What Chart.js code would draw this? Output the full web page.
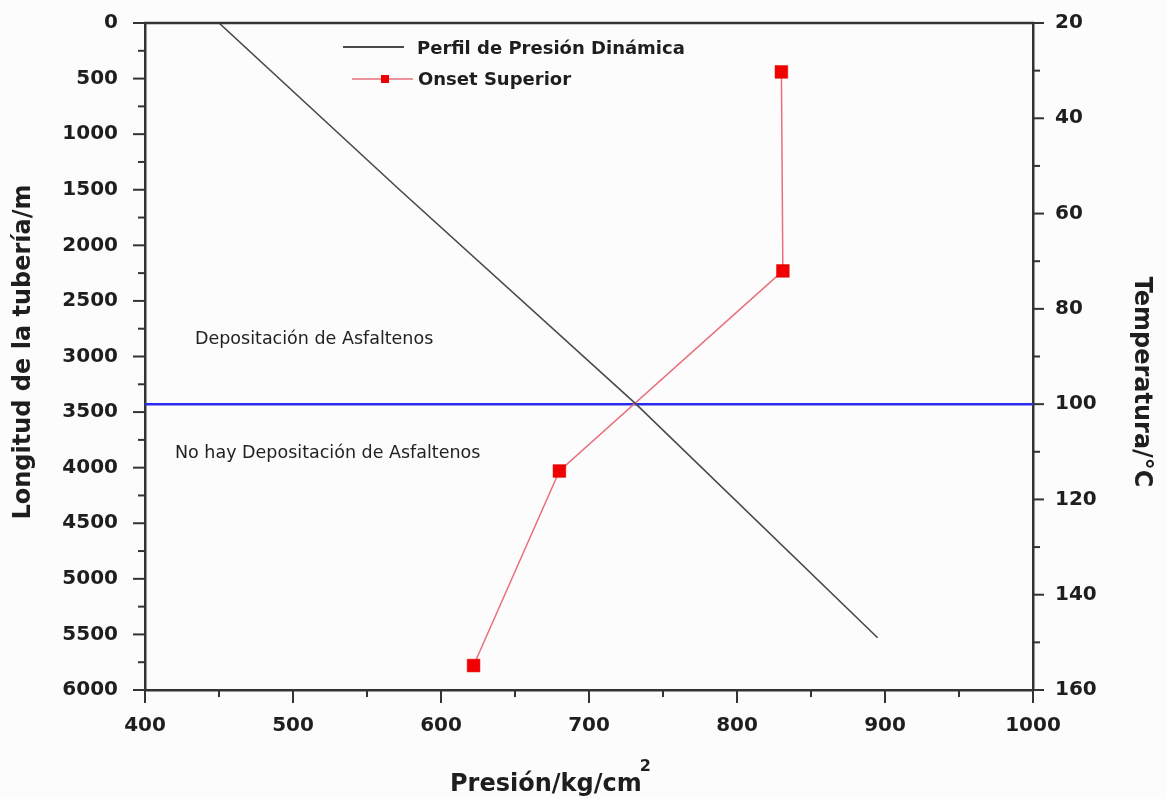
<!DOCTYPE html>
<html>
<head>
<meta charset="utf-8">
<script src="https://cdn.jsdelivr.net/npm/chart.js@4/dist/chart.umd.min.js"></script>
<style>
  html, body { margin: 0; padding: 0; background: #fcfcfc; }
  #wrap { width: 1167px; height: 799px; }
</style>
</head>
<body>
<div id="wrap"><canvas id="c" width="1167" height="799"></canvas></div>
<script>
// ---- data ----
const perfilPresion = [450, 572, 732, 895];          // kg/cm2
const perfilLongitud = [0, 1500, 3430, 5530];         // m
const onsetPresion = [830, 831, 680, 622];            // kg/cm2
const onsetLongitud = [440, 2230, 4030, 5780];        // m
const limiteTemperatura = 100;                        // °C (blue line)
const limitePresion = [400, 1000];
const serieNombres = ['Perfil de Presión Dinámica', 'Onset Superior'];
const zonaTextos = ['Depositación de Asfaltenos', 'No hay Depositación de Asfaltenos'];
const ejeX = { min: 400, max: 1000, step: 100, minor: 50 };
const ejeY = { min: 0, max: 6000, step: 500, minor: 250 };
const ejeY2 = { min: 20, max: 160, step: 20, minor: 10 };
const titulos = { x: 'Presión/kg/cm', xSup: '2', y: 'Longitud de la tubería/m', y2: 'Temperatura/°C' };

const AXIS = '#333333';
const TXT = '#1e1e1e';
const FONT = '"DejaVu Sans", "Liberation Sans", Arial, sans-serif';

const perfilData = perfilPresion.map((x, i) => ({ x, y: perfilLongitud[i] }));
const onsetData = onsetPresion.map((x, i) => ({ x, y: onsetLongitud[i] }));
const limiteData = limitePresion.map(x => ({ x, y: limiteTemperatura }));

const decorPlugin = {
  id: 'decor',
  beforeDraw(chart) {
    const ctx = chart.ctx;
    ctx.save();
    ctx.fillStyle = '#fcfcfc';
    ctx.fillRect(0, 0, chart.width, chart.height);
    ctx.restore();
  },
  afterDraw(chart) {
    const ctx = chart.ctx;
    const { x, y, y2 } = chart.scales;
    const a = chart.chartArea;
    ctx.save();
    ctx.strokeStyle = AXIS;
    ctx.lineWidth = 2.5;
    ctx.lineCap = 'butt';
    // top frame line
    ctx.beginPath();
    ctx.moveTo(a.left - 1, a.top);
    ctx.lineTo(a.right + 1, a.top);
    ctx.stroke();
    // ticks
    ctx.lineWidth = 2;
    for (let v = ejeX.min; v <= ejeX.max + 1e-9; v += ejeX.minor) {
      const px = x.getPixelForValue(v);
      const len = (Math.round(v - ejeX.min) % ejeX.step === 0) ? 13 : 7;
      ctx.beginPath(); ctx.moveTo(px, a.bottom); ctx.lineTo(px, a.bottom + len); ctx.stroke();
    }
    for (let v = ejeY.min; v <= ejeY.max + 1e-9; v += ejeY.minor) {
      const py = y.getPixelForValue(v);
      const len = (Math.round(v - ejeY.min) % ejeY.step === 0) ? 12 : 7;
      ctx.beginPath(); ctx.moveTo(a.left, py); ctx.lineTo(a.left - len, py); ctx.stroke();
    }
    for (let v = ejeY2.min; v <= ejeY2.max + 1e-9; v += ejeY2.minor) {
      const py = y2.getPixelForValue(v);
      const len = (Math.round(v - ejeY2.min) % ejeY2.step === 0) ? 11 : 7;
      ctx.beginPath(); ctx.moveTo(a.right, py); ctx.lineTo(a.right + len, py); ctx.stroke();
    }

    // legend
    const ds0 = chart.data.datasets[0], ds1 = chart.data.datasets[1];
    ctx.font = 'bold 18px ' + FONT;
    ctx.fillStyle = TXT;
    ctx.textBaseline = 'middle';
    ctx.textAlign = 'left';
    ctx.strokeStyle = ds0.borderColor; ctx.lineWidth = 2;
    ctx.beginPath(); ctx.moveTo(343, 47); ctx.lineTo(404, 47); ctx.stroke();
    ctx.fillText(serieNombres[0], 417, 49);
    ctx.strokeStyle = ds1.borderColor; ctx.lineWidth = 1.5;
    ctx.beginPath(); ctx.moveTo(352, 79); ctx.lineTo(413, 79); ctx.stroke();
    ctx.fillStyle = ds1.pointBackgroundColor;
    ctx.fillRect(381, 75, 8, 8);
    ctx.fillStyle = TXT;
    ctx.fillText(serieNombres[1], 418, 80);

    // zone texts
    ctx.font = '17.5px ' + FONT;
    ctx.fillStyle = '#222';
    ctx.fillText(zonaTextos[0], 195, 339);
    ctx.fillText(zonaTextos[1], 175, 453);

    // axis titles
    ctx.font = 'bold 24px ' + FONT;
    ctx.fillStyle = TXT;
    ctx.textBaseline = 'alphabetic';
    ctx.textAlign = 'left';
    ctx.fillText(titulos.x, 450, 791);
    const w = ctx.measureText(titulos.x).width;
    ctx.font = 'bold 16px ' + FONT;
    ctx.fillText(titulos.xSup, 450 + w - 2, 771);

    ctx.font = 'bold 24px ' + FONT;
    ctx.textAlign = 'center';
    ctx.textBaseline = 'middle';
    ctx.save();
    ctx.translate(24, 352);
    ctx.rotate(-Math.PI / 2);
    ctx.fillText(titulos.y, 0, 0);
    ctx.restore();
    ctx.save();
    ctx.translate(1141, 382);
    ctx.rotate(Math.PI / 2);
    ctx.fillText(titulos.y2, 0, 0);
    ctx.restore();
    ctx.restore();
  }
};

const tickFont = { family: FONT, size: 20, weight: 'bold' };
const plain = v => String(v);
const fitV = w => s => { s.width = w; s.paddingTop = 0; s.paddingBottom = 0; };

new Chart(document.getElementById('c'), {
  type: 'scatter',
  data: {
    datasets: [
      {
        label: serieNombres[0],
        data: perfilData,
        showLine: true,
        borderColor: '#4a4a4a',
        borderWidth: 1.6,
        pointRadius: 0,
        tension: 0,
        xAxisID: 'x', yAxisID: 'y'
      },
      {
        label: serieNombres[1],
        data: onsetData,
        showLine: true,
        borderColor: '#e8707c',
        borderWidth: 1.5,
        pointStyle: 'rect',
        pointRadius: 9,
        pointBackgroundColor: '#f00000',
        pointBorderColor: '#e00000',
        pointBorderWidth: 0.5,
        tension: 0,
        xAxisID: 'x', yAxisID: 'y'
      },
      {
        label: 'limite',
        data: limiteData,
        showLine: true,
        borderColor: '#2b2bf0',
        borderWidth: 2.5,
        pointRadius: 0,
        xAxisID: 'x', yAxisID: 'y2'
      }
    ]
  },
  options: {
    responsive: false,
    animation: false,
    devicePixelRatio: 1,
    layout: { padding: { top: 23, left: 0, right: 0, bottom: 0 } },
    plugins: { legend: { display: false }, tooltip: { enabled: false } },
    scales: {
      x: {
        type: 'linear', position: 'bottom',
        min: ejeX.min, max: ejeX.max,
        grid: { display: false, drawTicks: false },
        border: { display: true, color: AXIS, width: 2.5 },
        ticks: { stepSize: ejeX.step, padding: 24, color: TXT, font: tickFont, maxRotation: 0, callback: plain },
        afterFit: s => { s.height = 109; s.paddingLeft = 0; s.paddingRight = 0; }
      },
      y: {
        type: 'linear', position: 'left', reverse: true,
        min: ejeY.min, max: ejeY.max,
        grid: { display: false, drawTicks: false },
        border: { display: true, color: AXIS, width: 2.5 },
        ticks: { stepSize: ejeY.step, padding: 27, color: TXT, font: tickFont, callback: plain },
        afterFit: fitV(145)
      },
      y2: {
        type: 'linear', position: 'right', reverse: true,
        min: ejeY2.min, max: ejeY2.max,
        grid: { display: false, drawTicks: false },
        border: { display: true, color: AXIS, width: 2.5 },
        ticks: { stepSize: ejeY2.step, padding: 22, color: TXT, font: tickFont, callback: plain },
        afterFit: fitV(134)
      }
    }
  },
  plugins: [decorPlugin]
});
</script>
</body>
</html>
